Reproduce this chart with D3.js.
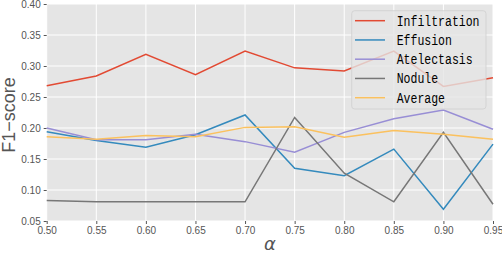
<!DOCTYPE html>
<html><head><meta charset="utf-8">
<script src="https://cdn.jsdelivr.net/npm/d3@7"></script>
<style>body{margin:0;background:#fff}svg{display:block}</style>
</head><body><svg id="c" width="502" height="254"></svg>
<script>
const alphas = [0.50,0.55,0.60,0.65,0.70,0.75,0.80,0.85,0.90,0.95];
const infiltration = [0.268,0.284,0.319,0.286,0.324,0.297,0.292,0.324,0.267,0.281];
const effusion     = [0.194,0.180,0.169,0.189,0.221,0.135,0.123,0.166,0.069,0.174];
const atelectasis  = [0.200,0.181,0.181,0.190,0.178,0.161,0.193,0.215,0.229,0.198];
const nodule       = [0.083,0.081,0.081,0.081,0.081,0.217,0.127,0.081,0.193,0.077];
const average      = [0.186,0.182,0.188,0.186,0.201,0.202,0.185,0.196,0.190,0.182];
const seriesNames  = ["Infiltration","Effusion","Atelectasis","Nodule","Average"];
const yTicks = [0.05,0.10,0.15,0.20,0.25,0.30,0.35,0.40];
const colors = ["#E24A33","#348ABD","#988ED5","#777777","#FBC15E"];
const seriesVals = [infiltration,effusion,atelectasis,nodule,average];

const svg = d3.select("#c");
const L=46.7,R=493,T=4,B=221;
const x = d3.scaleLinear().domain([0.5,0.95]).range([L,R]);
const y = d3.scaleLinear().domain([0.05,0.40]).range([B,T]);

svg.append("rect").attr("x",L).attr("y",T).attr("width",R-L).attr("height",B-T).attr("fill","#E5E5E5");
const g = svg.append("g");
g.selectAll(".vg").data(alphas).join("line").attr("x1",d=>x(d)).attr("x2",d=>x(d)).attr("y1",T).attr("y2",B).attr("stroke","#fff").attr("stroke-width",1);
g.selectAll(".hg").data(yTicks).join("line").attr("y1",d=>y(d)).attr("y2",d=>y(d)).attr("x1",L).attr("x2",R).attr("stroke","#fff").attr("stroke-width",1);

const fmt = d3.format(".2f");
const xa = svg.append("g").attr("transform",`translate(0,${B})`).call(d3.axisBottom(x).tickValues(alphas).tickFormat(fmt).tickSize(3).tickPadding(3));
const ya = svg.append("g").attr("transform",`translate(${L},0)`).call(d3.axisLeft(y).tickValues(yTicks).tickFormat(fmt).tickSize(3).tickPadding(3));
[xa,ya].forEach(a=>{
  a.select(".domain").remove();
  a.selectAll(".tick line").attr("stroke","#555");
  a.selectAll("text").attr("fill","#555").style("font-family","Liberation Sans, Arial, sans-serif").style("font-size","10px");
});

const line = d3.line().x((d,i)=>x(alphas[i])).y(d=>y(d));
seriesVals.forEach((vals,k)=>{
  svg.append("path").datum(vals).attr("d",line).attr("fill","none").attr("stroke",colors[k]).attr("stroke-width",1.5);
});

// legend
const lg = svg.append("g");
lg.append("rect").attr("x",351.7).attr("y",10.7).attr("width",134.3).attr("height",98.3).attr("rx",3)
  .attr("fill","#E5E5E5").attr("fill-opacity",0.8).attr("stroke","#d0d0d0").attr("stroke-opacity",0.8).attr("stroke-width",1);
const rowY = d3.scaleLinear().domain([0,4]).range([20.7,97.7]);
seriesNames.forEach((nm,k)=>{
  const yy = rowY(k);
  lg.append("line").attr("x1",355).attr("x2",385).attr("y1",yy).attr("y2",yy).attr("stroke",colors[k]).attr("stroke-width",1.5);
  lg.append("text").attr("x",396.7).attr("y",yy+5).text(nm)
    .attr("textLength",nm.length*6.9).attr("lengthAdjust","spacingAndGlyphs")
    .style("font-family","Liberation Mono, monospace").style("font-size","14px").attr("fill","#000");
});

svg.append("text").attr("transform","translate(15,115) rotate(-90)").attr("text-anchor","middle")
  .style("font-family","Liberation Sans, Arial, sans-serif").style("font-size","18px").attr("fill","#555").text("F1\u2212score");
svg.append("text").attr("x",(L+R)/2).attr("y",250).attr("text-anchor","middle")
  .style("font-family","DejaVu Sans, sans-serif").style("font-style","italic").style("font-size","18px").attr("fill","#555").text("\u03b1");
</script></body></html>
